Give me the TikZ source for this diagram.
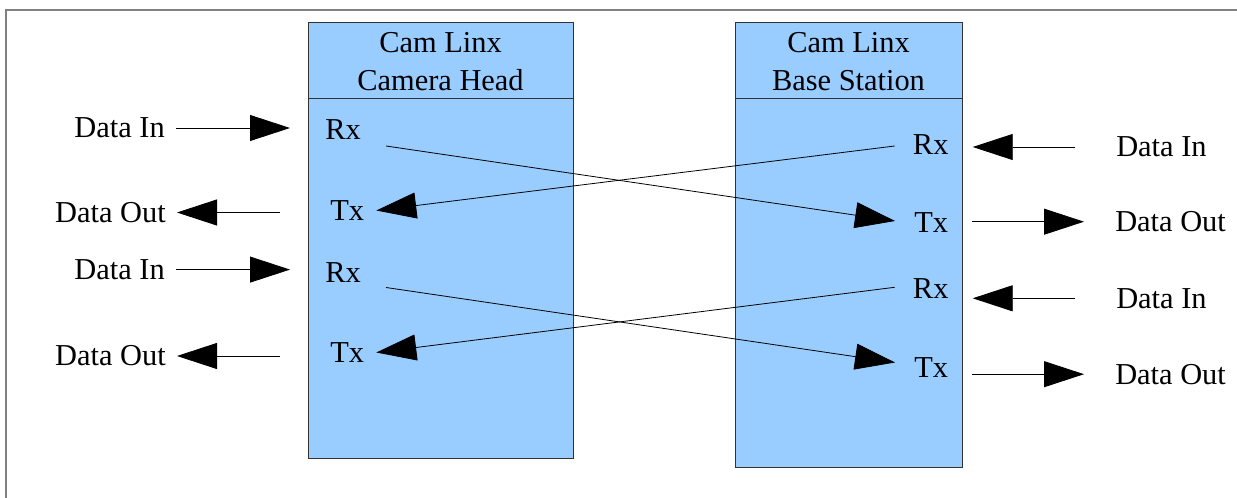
\documentclass[tikz,border=0pt]{standalone}
\usepackage{fontspec}
\setmainfont{Liberation Serif}
\usetikzlibrary{calc}
\usetikzlibrary{arrows.meta}
\definecolor{unitblue}{HTML}{99CCFF}

\begin{document}
\begin{tikzpicture}[x=0.75pt,y=-0.75pt]
\tikzstyle{unit}=[draw=black!80,fill=unitblue,line width=0.6pt]
\tikzstyle{lbl}=[inner sep=0pt,font=\fontsize{22.8}{28.5}\selectfont]
\tikzstyle{title}=[lbl,align=center]
\tikzstyle{sig}=[line width=0.6pt,-{Triangle[length=30pt,width=19.5pt]}]
\useasboundingbox (0,0) rectangle (1237,498);
\clip (0,0) rectangle (1237,498);
\draw[black!50,line width=1pt] (6,10) rectangle (1245,510);

% the two units
\draw[unit] (308,22) rectangle (573,458);
\draw[draw=black!80,line width=0.6pt] (308,98) -- (573,98);
\draw[unit] (735,22) rectangle (962,467);
\draw[draw=black!80,line width=0.6pt] (735,98) -- (962,98);
\node[title] at(440.5, 62) (headtitle) {Cam Linx\\Camera Head};
\node[title] at(848.5, 62) (basetitle) {Cam Linx\\Base Station};

% ports
\node[lbl,anchor=west] at(325, 130) (lrx1) {Rx};
\node[lbl,anchor=west] at(330, 210.5) (ltx1) {Tx};
\node[lbl,anchor=west] at(325, 272.5) (lrx2) {Rx};
\node[lbl,anchor=west] at(330, 352.5) (ltx2) {Tx};
\node[lbl,anchor=west] at(912.7, 145) (rrx1) {Rx};
\node[lbl,anchor=west] at(914, 223) (rtx1) {Tx};
\node[lbl,anchor=west] at(912.7, 288.8) (rrx2) {Rx};
\node[lbl,anchor=west] at(914, 367.5) (rtx2) {Tx};

% outside signals
\node[lbl,anchor=east] at(165, 128) (lin1) {Data In};
\node[lbl,anchor=east] at(166, 212.5) (lout1) {Data Out};
\node[lbl,anchor=east] at(165, 269.6) (lin2) {Data In};
\node[lbl,anchor=east] at(166, 356) (lout2) {Data Out};
\node[lbl,anchor=west] at(1116, 147) (rin1) {Data In};
\node[lbl,anchor=west] at(1115, 221.7) (rout1) {Data Out};
\node[lbl,anchor=west] at(1116, 298.3) (rin2) {Data In};
\node[lbl,anchor=west] at(1115, 374.2) (rout2) {Data Out};

\draw[sig] ($(lin1.east)+(11,0)$) -- ($(lin1.east -| lrx1.west)+(-35,0)$);
\draw[sig] ($(lout1.east -| ltx1.west)+(-50,0)$) -- ($(lout1.east)+(11,0)$);
\draw[sig] ($(lin2.east)+(11,0)$) -- ($(lin2.east -| lrx2.west)+(-35,0)$);
\draw[sig] ($(lout2.east -| ltx2.west)+(-50,0)$) -- ($(lout2.east)+(11,0)$);
\draw[sig] ($(rin1.west)+(-41,0)$) -- ($(rin1.west -| rrx1.east)+(24,0)$);
\draw[sig] ($(rout1.west -| rtx1.east)+(24,0)$) -- ($(rout1.west)+(-31,0)$);
\draw[sig] ($(rin2.west)+(-41,0)$) -- ($(rin2.west -| rrx2.east)+(24,0)$);
\draw[sig] ($(rout2.west -| rtx2.east)+(24,0)$) -- ($(rout2.west)+(-31,0)$);

% crossed links
\draw[sig] ($(lrx1.east)+(25,16)$) -- ($(rtx1.west)+(-19,-2)$);
\draw[sig] ($(rrx1.west)+(-18,1)$) -- ($(ltx1.east)+(12,0)$);
\draw[sig] ($(lrx2.east)+(25,15)$) -- ($(rtx2.west)+(-19,-5)$);
\draw[sig] ($(rrx2.west)+(-18,-1.5)$) -- ($(ltx2.east)+(12,0)$);
\end{tikzpicture}
\end{document}
